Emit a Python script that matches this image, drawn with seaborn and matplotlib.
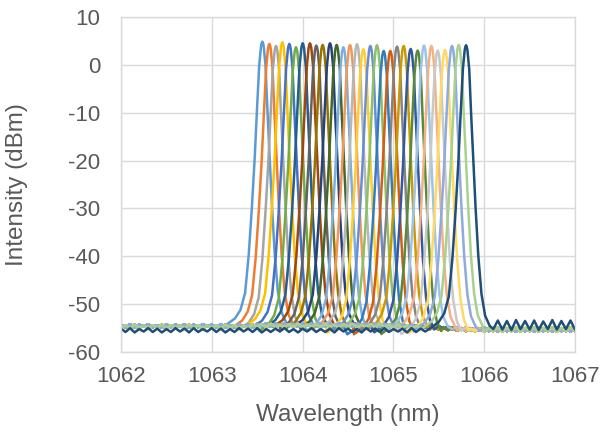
import numpy as np
import pandas as pd
import matplotlib
matplotlib.use("Agg")
import matplotlib.pyplot as plt
import seaborn as sns

# ---- data ----
peak_nm = [1063.557, 1063.634, 1063.707, 1063.777, 1063.854, 1063.927, 1064.001,
           1064.081, 1064.151, 1064.221, 1064.302, 1064.375, 1064.449, 1064.522,
           1064.599, 1064.669, 1064.746, 1064.819, 1064.893, 1064.966, 1065.040,
           1065.113, 1065.190, 1065.267, 1065.337, 1065.418, 1065.488, 1065.568,
           1065.645, 1065.719, 1065.800]
peak_dbm = [4.86, 4.38, 3.96, 4.72, 4.38, 3.68, 4.51, 4.51, 4.03, 4.17, 4.51,
            4.17, 3.68, 4.17, 4.31, 3.26, 3.96, 4.10, 2.92, 2.92, 3.82, 3.96,
            3.33, 2.99, 4.03, 3.96, 2.99, 3.13, 3.96, 4.17, 4.10]
colors = ["#5B9BD5", "#ED7D31", "#A5A5A5", "#FFC000", "#4472C4", "#70AD47",
          "#255E91", "#9E480E", "#636363", "#997300", "#264478", "#43682B",
          "#7CAFDD", "#F1975A", "#B7B7B7", "#FFCD33", "#698ED0", "#8CC168",
          "#327DC2", "#D26012", "#848484", "#CC9A00", "#335AA1", "#5A8A39",
          "#9DC3E6", "#F4B183", "#C9C9C9", "#FFD966", "#8FAADC", "#A9D18E",
          "#1F4E79"]

# line shape around each peak (offset from peak in nm, level relative to peak in dB)
profile_offset_nm = [-0.40, -0.30, -0.24, -0.19, -0.15, -0.115, -0.085, -0.06,
                     -0.035, -0.015, -0.006, 0.0, 0.006, 0.015, 0.035, 0.055,
                     0.08, 0.105, 0.135, 0.17, 0.21, 0.26]
profile_rel_db = [-59.2, -57.8, -56.0, -52.5, -44.5, -34.5, -24.5, -14.5,
                  -5.0, -1.0, -0.2, 0.0, -0.2, -1.0, -5.0, -14.0,
                  -24.0, -34.0, -44.0, -52.0, -56.5, -58.6]

# noise floor samples (1062.00 ... 1067.00 nm, every 0.05 nm)
floor_a = [-54.3, -54.8, -54.2, -54.9, -54.3, -54.7, -54.2, -54.8, -54.4, -54.9,
           -54.2, -54.8, -54.3, -54.7, -54.2, -54.9, -54.3, -54.8, -54.2, -54.7,
           -54.3, -54.8, -54.2, -54.9, -54.4, -54.8, -54.2, -54.7, -54.3, -54.9,
           -54.1, -54.6, -54.0, -54.7, -54.1, -54.5, -54.0, -54.6, -54.1, -54.7,
           -54.0, -54.5, -54.1, -54.6, -54.0, -54.7, -54.1, -54.5, -54.0, -54.6,
           -54.1, -54.7, -54.0, -54.5, -54.1, -54.6, -54.0, -54.7, -54.1, -54.5,
           -54.2, -54.7, -54.3, -54.8, -54.2, -54.7, -54.4, -54.9, -54.5, -55.0,
           -54.6, -55.1, -54.7, -55.2, -54.8, -55.3, -54.9, -55.4, -55.0, -55.5,
           -54.9, -55.6, -55.0, -55.7, -54.9, -55.6, -55.0, -55.7, -54.9, -55.6,
           -55.0, -55.7, -54.9, -55.6, -55.0, -55.7, -54.9, -55.6, -55.0, -55.7,
           -55.0]
floor_b = [-54.9, -54.4, -55.0, -54.3, -54.9, -54.5, -55.0, -54.4, -54.8, -54.3,
           -55.0, -54.4, -54.9, -54.5, -55.0, -54.3, -54.9, -54.4, -55.0, -54.5,
           -54.9, -54.4, -55.0, -54.3, -54.8, -54.4, -55.0, -54.5, -54.9, -54.3,
           -54.7, -54.2, -54.8, -54.1, -54.7, -54.3, -54.8, -54.2, -54.7, -54.1,
           -54.8, -54.3, -54.7, -54.2, -54.8, -54.1, -54.7, -54.3, -54.8, -54.2,
           -54.7, -54.1, -54.8, -54.3, -54.7, -54.2, -54.8, -54.1, -54.7, -54.3,
           -54.8, -54.3, -54.9, -54.4, -55.0, -54.5, -55.1, -54.6, -55.2, -54.7,
           -55.3, -54.8, -55.4, -54.9, -55.5, -55.0, -55.6, -55.1, -55.6, -55.1,
           -55.7, -55.0, -55.6, -54.9, -55.7, -55.0, -55.6, -54.9, -55.7, -55.0,
           -55.6, -54.9, -55.7, -55.0, -55.6, -54.9, -55.7, -55.0, -55.6, -54.9,
           -55.6]
floor_last = [-55.1, -55.8, -55.0, -55.9, -55.2, -55.7, -55.0, -55.8, -55.1, -55.9,
              -55.2, -55.8, -55.0, -55.7, -55.1, -55.9, -55.0, -55.8, -55.2, -55.7,
              -55.0, -55.8, -55.1, -55.9, -55.2, -55.8, -55.0, -55.7, -55.1, -55.8,
              -55.0, -55.9, -55.2, -55.8, -55.1, -55.7, -55.0, -55.8, -55.2, -55.9,
              -55.1, -55.7, -55.0, -55.8, -55.2, -55.8, -55.1, -55.9, -55.0, -55.7,
              -55.1, -55.8, -55.2, -55.9, -55.0, -55.7, -55.1, -55.8, -55.0, -55.8,
              -55.2, -55.7, -55.1, -55.9, -55.0, -55.8, -55.1, -55.7, -55.0, -55.8,
              -55.1, -55.6, -55.2, -55.5, -55.0, -55.0, -55.0, -55.0, -55.0, -55.0,
              -54.5, -53.6, -55.2, -53.4, -55.3, -53.5, -55.4, -53.3, -55.2, -53.5,
              -55.3, -53.4, -55.4, -53.6, -55.2, -53.3, -55.3, -53.5, -55.2, -53.4,
              -55.3]
floor_nm = np.linspace(1062.0, 1067.0, 101)

x_ticks = [1062, 1063, 1064, 1065, 1066, 1067]
y_ticks = [-60, -50, -40, -30, -20, -10, 0, 10]

# ---- build long-form table ----
rows = []
n = len(peak_nm)
names = [f"s{i}" for i in range(n)]
for i, (c, p) in enumerate(zip(peak_nm, peak_dbm)):
    fl = floor_last if i == n - 1 else (floor_a if i % 2 == 0 else floor_b)
    lo = c + profile_offset_nm[0]
    hi = c + profile_offset_nm[-1]
    pts = [(x, y) for x, y in zip(floor_nm, fl) if x < lo]
    pts += [(c + o, p + r) for o, r in zip(profile_offset_nm, profile_rel_db)]
    pts += [(x, y) for x, y in zip(floor_nm, fl) if x > hi]
    for x, y in pts:
        rows.append({"series": names[i], "nm": x, "dbm": y})
df = pd.DataFrame(rows)

sns.set_style("white")
plt.rcParams["font.family"] = ["Liberation Sans", "DejaVu Sans"]

fig = plt.figure(figsize=(6.15, 4.32), dpi=100)
ax = fig.add_axes([0.1967, 0.185, 0.7383, 0.7756])

sns.lineplot(data=df, x="nm", y="dbm", hue="series", hue_order=names,
             palette=colors, sort=False, estimator=None, legend=False,
             linewidth=1.8, ax=ax)

ax.set_xlim(1062, 1067)
ax.set_ylim(-60, 10)
ax.set_xticks(x_ticks)
ax.set_yticks(y_ticks)
ax.set_xticklabels([str(t) for t in x_ticks])
ax.set_yticklabels([str(t) for t in y_ticks])
ax.grid(True, color="#D9D9D9", linewidth=1.0)
ax.set_axisbelow(True)
for s in ax.spines.values():
    s.set_color("#D9D9D9")
    s.set_linewidth(1.0)
ax.tick_params(axis="both", length=0, labelsize=16, labelcolor="#595959")
ax.tick_params(axis="x", pad=10)
ax.tick_params(axis="y", pad=15)
ax.set_xlabel("Wavelength (nm)", fontsize=17.5, color="#595959")
ax.set_ylabel("Intensity (dBm)", fontsize=17.5, color="#595959")
ax.xaxis.set_label_coords(0.5, -0.155)
ax.yaxis.set_label_coords(-0.205, 0.5)

fig.savefig("out.png", dpi=100)
